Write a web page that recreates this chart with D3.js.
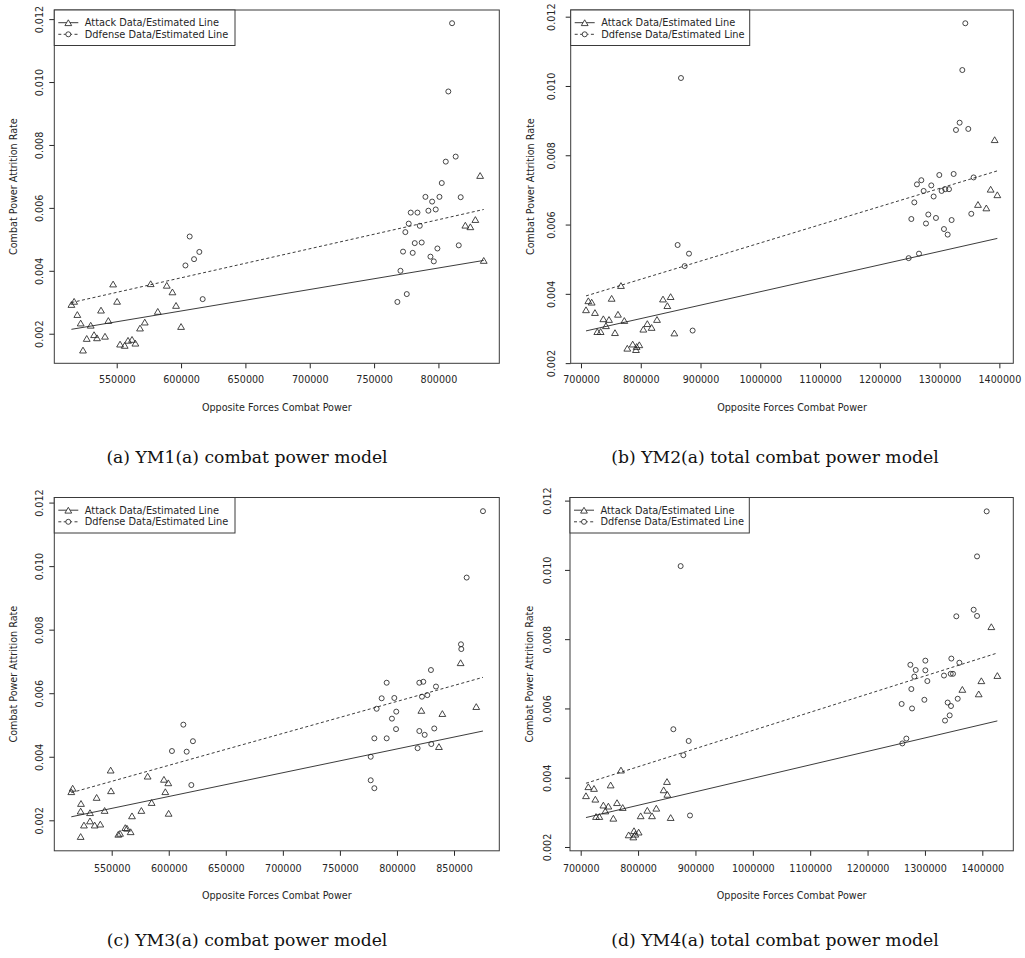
<!DOCTYPE html>
<html>
<head>
<meta charset="utf-8">
<script src="https://cdn.jsdelivr.net/npm/d3@7"></script>
<style>
  body { margin: 0; background: #fff; }
  svg { display: block; }
</style>
</head>
<body>
<svg width="1025" height="958"></svg>
<script>
// YM1(a) - points [opposite forces combat power, attrition rate]
const ym1Attack = [[514800,0.00293],[516900,0.00303],[519400,0.00261],[522000,0.00234],[523800,0.00148],[526700,0.00185],[529800,0.00227],[532400,0.00197],[534700,0.00187],[537800,0.00275],[540900,0.00192],[543500,0.00242],[547200,0.00358],[550300,0.00303],[552600,0.00167],[556200,0.00163],[558800,0.00179],[561900,0.00182],[564500,0.00170],[568100,0.00218],[571800,0.00237],[576400,0.00359],[581900,0.00271],[588900,0.00354],[593300,0.00333],[596100,0.00290],[600000,0.00223],[820900,0.00545],[824800,0.00540],[828700,0.00563],[832400,0.00703],[835200,0.00433]];
const ym1Defense = [[603400,0.00417],[606700,0.00509],[610100,0.00437],[614200,0.00460],[616800,0.00310],[810600,0.01187],[807700,0.00970],[813400,0.00763],[805700,0.00747],[802600,0.00679],[789900,0.00635],[795100,0.00620],[800800,0.00635],[817300,0.00634],[778500,0.00585],[783700,0.00585],[792200,0.00591],[797900,0.00595],[776900,0.00550],[785500,0.00543],[774300,0.00523],[781600,0.00488],[787000,0.00490],[772500,0.00461],[780000,0.00457],[799200,0.00471],[793800,0.00445],[796400,0.00430],[815800,0.00481],[770500,0.00400],[775400,0.00326],[768100,0.00301]];
const ym1AttackLine = [[514800,0.00214],[835200,0.00433]];
const ym1DefenseLine = [[514800,0.00299],[835200,0.00595]];

// YM2(a)
const ym2Attack = [[766900,0.00424],[712300,0.00380],[717900,0.00376],[751300,0.00387],[708400,0.00354],[723400,0.00346],[837200,0.00385],[850000,0.00392],[844500,0.00366],[761900,0.00341],[737400,0.00328],[746900,0.00326],[772500,0.00323],[741800,0.00308],[727300,0.00291],[732900,0.00291],[756900,0.00288],[804300,0.00298],[811000,0.00314],[818200,0.00303],[827200,0.00326],[856200,0.00287],[777500,0.00243],[786500,0.00255],[797600,0.00253],[792000,0.00239],[793100,0.00248],[1392100,0.00845],[1385400,0.00702],[1396600,0.00686],[1364200,0.00658],[1378200,0.00648]];
const ym2Defense = [[867300,0.01023],[861700,0.00541],[880700,0.00516],[873500,0.00480],[886800,0.00294],[1343000,0.01181],[1338000,0.01046],[1333500,0.00894],[1327400,0.00873],[1348000,0.00876],[1299500,0.00743],[1323500,0.00746],[1356900,0.00736],[1269400,0.00728],[1262100,0.00716],[1286100,0.00713],[1273300,0.00697],[1303400,0.00697],[1309500,0.00702],[1315700,0.00702],[1290000,0.00681],[1257700,0.00664],[1281100,0.00629],[1252700,0.00616],[1277200,0.00603],[1293900,0.00619],[1320100,0.00613],[1353000,0.00631],[1307300,0.00587],[1313500,0.00571],[1248200,0.00503],[1265500,0.00516]];
const ym2AttackLine = [[708400,0.00293],[1396600,0.00560]];
const ym2DefenseLine = [[708400,0.00394],[1396600,0.00755]];

// YM3(a)
const ym3Attack = [[515800,0.00301],[514600,0.00290],[549100,0.00358],[581500,0.00339],[595800,0.00329],[599600,0.00318],[549400,0.00293],[536800,0.00272],[597000,0.00290],[523100,0.00253],[522800,0.00229],[531000,0.00224],[543800,0.00231],[585000,0.00256],[576000,0.00231],[567800,0.00214],[599900,0.00222],[525700,0.00185],[531000,0.00198],[535100,0.00185],[540000,0.00188],[555800,0.00156],[557300,0.00159],[561900,0.00177],[563400,0.00175],[566600,0.00164],[522800,0.00149],[855800,0.00696],[821400,0.00546],[839800,0.00536],[869500,0.00558],[836800,0.00432]];
const ym3Defense = [[602800,0.00418],[612800,0.00501],[615700,0.00416],[621200,0.00449],[619800,0.00311],[875400,0.01173],[861100,0.00964],[856100,0.00754],[856400,0.00739],[829800,0.00673],[791000,0.00633],[819600,0.00633],[823100,0.00636],[834200,0.00621],[786600,0.00584],[797700,0.00585],[821900,0.00589],[826600,0.00594],[782200,0.00551],[799400,0.00542],[795600,0.00520],[799200,0.00487],[819600,0.00481],[824300,0.00469],[832700,0.00489],[780200,0.00458],[791000,0.00458],[818100,0.00427],[830100,0.00440],[777000,0.00400],[777000,0.00326],[780200,0.00301]];
const ym3AttackLine = [[514600,0.00211],[875400,0.00481]];
const ym3DefenseLine = [[514600,0.00287],[875400,0.00650]];

// YM4(a)
const ym4Attack = [[770200,0.00422],[713300,0.00374],[723200,0.00369],[752200,0.00379],[709200,0.00348],[725500,0.00338],[850400,0.00389],[844600,0.00365],[851000,0.00352],[763300,0.00328],[739500,0.00321],[748200,0.00318],[773200,0.00314],[742900,0.00304],[726700,0.00288],[732500,0.00288],[756900,0.00283],[804500,0.00290],[816100,0.00306],[824300,0.00290],[831800,0.00312],[856800,0.00285],[783600,0.00235],[792900,0.00247],[801000,0.00243],[791700,0.00229],[795200,0.00237],[1415700,0.00836],[1398300,0.00680],[1426200,0.00695],[1365200,0.00655],[1393700,0.00642]];
const ym4Defense = [[874200,0.01011],[861500,0.00540],[888200,0.00506],[878900,0.00465],[890500,0.00291],[1407600,0.01169],[1390800,0.01039],[1384900,0.00885],[1390800,0.00867],[1354700,0.00866],[1346000,0.00744],[1300700,0.00738],[1360000,0.00732],[1274600,0.00726],[1283900,0.00711],[1300700,0.00710],[1281500,0.00692],[1333200,0.00695],[1344900,0.00700],[1348900,0.00700],[1304200,0.00679],[1276300,0.00656],[1259400,0.00613],[1277500,0.00600],[1299000,0.00625],[1339600,0.00617],[1345400,0.00607],[1357100,0.00628],[1343100,0.00580],[1335000,0.00565],[1260600,0.00499],[1267600,0.00513]];
const ym4AttackLine = [[709200,0.00285],[1426200,0.00564]];
const ym4DefenseLine = [[709200,0.00384],[1426200,0.00760]];

// ticks and texts
const xTicksCombat = [550000, 600000, 650000, 700000, 750000, 800000, 850000];
const xTicksTotal = [700000, 800000, 900000, 1000000, 1100000, 1200000, 1300000, 1400000];
const yTicks = [0.002, 0.004, 0.006, 0.008, 0.010, 0.012];
const legendLabels = ["Attack Data/Estimated Line", "Ddfense Data/Estimated Line"];
const captions = ["(a) YM1(a) combat power model", "(b) YM2(a) total combat power model",
                  "(c) YM3(a) combat power model", "(d) YM4(a) total combat power model"];

const panels = [
  { attack: ym1Attack, defense: ym1Defense, aLine: ym1AttackLine, dLine: ym1DefenseLine,
    xDomain: [501500, 847300], yDomain: [0.00106, 0.01229], xTicks: xTicksCombat,
    box: [54.3, 10, 499.3, 363.3], legendW: 180.7, yLabOff: 15, xPad: 7.5, caption: captions[0], capX: 247, capY: 463 },
  { attack: ym2Attack, defense: ym2Defense, aLine: ym2AttackLine, dLine: ym2DefenseLine,
    xDomain: [682800, 1423300], yDomain: [0.001995, 0.012193], xTicks: xTicksTotal,
    box: [570.7, 10, 1013.3, 363.3], legendW: 179, yLabOff: 19.5, xPad: 7.5, caption: captions[1], capX: 775, capY: 463 },
  { attack: ym3Attack, defense: ym3Defense, aLine: ym3AttackLine, dLine: ym3DefenseLine,
    xDomain: [499700, 889700], yDomain: [0.00104, 0.01216], xTicks: xTicksCombat,
    box: [54.3, 497.5, 499.3, 850.8], legendW: 180.7, yLabOff: 15, xPad: 9, caption: captions[2], capX: 247, capY: 946 },
  { attack: ym4Attack, defense: ym4Defense, aLine: ym4AttackLine, dLine: ym4DefenseLine,
    xDomain: [681350, 1454000], yDomain: [0.00189, 0.01209], xTicks: xTicksTotal,
    box: [570, 497.5, 1013.3, 850.8], legendW: 179.3, yLabOff: 22, xPad: 9, caption: captions[3], capX: 775, capY: 946 }
];

const svg = d3.select("svg");
svg.append("rect").attr("width", 1025).attr("height", 958).attr("fill", "#fff");

const ink = "#262626";
const font = "DejaVu Sans, Verdana, sans-serif";
// triangle drawn around its visual centre (R pch = 2 proportions)
const triPath = "M0,-2.9L3.4,2.9L-3.4,2.9Z";

const drawPanel = (p) => {
  const [x0, y0, x1, y1] = p.box;
  const x = d3.scaleLinear().domain(p.xDomain).range([x0, x1]);
  const y = d3.scaleLinear().domain(p.yDomain).range([y1, y0]);
  const g = svg.append("g");

  // only the ticks that fall inside the plotting range, like R does
  const inside = (dom) => (v) => v >= dom[0] && v <= dom[1];
  const xt = p.xTicks.filter(inside(p.xDomain));
  const yt = yTicks.filter(inside(p.yDomain));

  // x axis
  const gx = g.append("g")
    .attr("transform", `translate(0,${y1})`)
    .call(d3.axisBottom(x).tickValues(xt).tickFormat(d3.format("d")).tickSize(5).tickPadding(p.xPad));
  gx.select(".domain").remove();
  gx.selectAll("line").attr("stroke", ink);
  gx.selectAll("text").attr("fill", ink).style("font-family", font).style("font-size", "9.6px");

  // y axis, labels parallel to the axis
  const gy = g.append("g")
    .attr("transform", `translate(${x0},0)`)
    .call(d3.axisLeft(y).tickValues(yt).tickFormat(d3.format(".3f")).tickSize(5));
  gy.select(".domain").remove();
  gy.selectAll("line").attr("stroke", ink);
  gy.selectAll("text")
    .attr("x", null).attr("dy", "0.35em")
    .attr("text-anchor", "middle")
    .attr("transform", `translate(${-p.yLabOff},0) rotate(-90)`)
    .attr("fill", ink).style("font-family", font).style("font-size", "9.6px");

  // axis titles
  g.append("text")
    .attr("x", (x0 + x1) / 2).attr("y", y1 + 48)
    .attr("text-anchor", "middle")
    .attr("fill", ink).style("font-family", font).style("font-size", "9.6px")
    .text("Opposite Forces Combat Power");
  g.append("text")
    .attr("transform", `translate(${x0 - 37},${(y0 + y1) / 2}) rotate(-90)`)
    .attr("text-anchor", "middle")
    .attr("fill", ink).style("font-family", font).style("font-size", "9.6px")
    .text("Combat Power Attrition Rate");

  // estimated lines
  const line = d3.line().x(d => x(d[0])).y(d => y(d[1]));
  g.append("path").attr("d", line(p.aLine))
    .attr("fill", "none").attr("stroke", ink).attr("stroke-width", 0.9);
  g.append("path").attr("d", line(p.dLine))
    .attr("fill", "none").attr("stroke", ink).attr("stroke-width", 0.9)
    .attr("stroke-dasharray", "3,2.4");

  // data points
  g.selectAll(".tri").data(p.attack).join("path")
    .attr("class", "tri")
    .attr("transform", d => `translate(${x(d[0])},${y(d[1])})`)
    .attr("d", triPath)
    .attr("fill", "none").attr("stroke", ink).attr("stroke-width", 0.85);
  g.selectAll(".circ").data(p.defense).join("circle")
    .attr("class", "circ")
    .attr("cx", d => x(d[0])).attr("cy", d => y(d[1])).attr("r", 2.5)
    .attr("fill", "none").attr("stroke", ink).attr("stroke-width", 0.85);

  // frame
  g.append("rect")
    .attr("x", x0).attr("y", y0).attr("width", x1 - x0).attr("height", y1 - y0)
    .attr("fill", "none").attr("stroke", "#3a3a3a").attr("stroke-width", 1);

  // legend
  const lg = g.append("g").attr("transform", `translate(${x0},${y0})`);
  lg.append("rect").attr("width", p.legendW).attr("height", 35.5)
    .attr("fill", "#fff").attr("stroke", "#3a3a3a").attr("stroke-width", 1);
  const rows = [12.7, 24.3];
  rows.forEach((ry, i) => {
    lg.append("line").attr("x1", 4).attr("x2", 24).attr("y1", ry).attr("y2", ry)
      .attr("stroke", ink).attr("stroke-width", 0.9)
      .attr("stroke-dasharray", i === 0 ? null : "3,2.4");
    if (i === 0) {
      lg.append("path").attr("transform", `translate(14,${ry})`).attr("d", triPath)
        .attr("fill", "#fff").attr("stroke", ink).attr("stroke-width", 0.85);
    } else {
      lg.append("circle").attr("cx", 14).attr("cy", ry).attr("r", 2.5)
        .attr("fill", "#fff").attr("stroke", ink).attr("stroke-width", 0.85);
    }
    lg.append("text").attr("x", 30.5).attr("y", ry).attr("dy", "0.35em")
      .attr("fill", ink).style("font-family", font).style("font-size", "9.8px")
      .text(legendLabels[i]);
  });

  // caption
  svg.append("text")
    .attr("x", p.capX).attr("y", p.capY)
    .attr("text-anchor", "middle")
    .attr("fill", "#111").style("font-family", "DejaVu Serif, serif").style("font-size", "17.2px")
    .text(p.caption);
};

panels.forEach(drawPanel);
</script>
</body>
</html>
